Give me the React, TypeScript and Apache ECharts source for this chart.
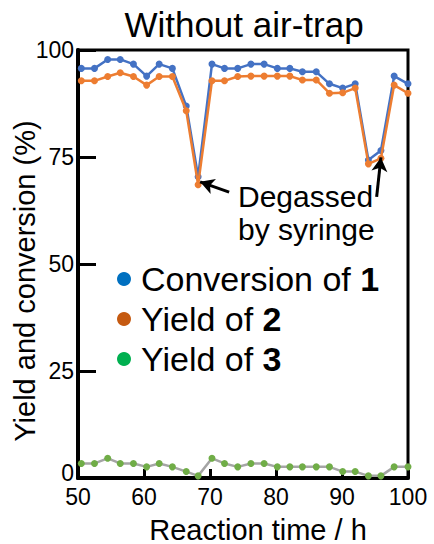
import React, { useEffect, useRef } from "react";
import * as echarts from "echarts";

const times = [50.5, 52.5, 54.5, 56.4, 58.4, 60.4, 62.3, 64.3, 66.4, 68.2, 70.3, 72.2, 74.2, 76.2, 78.2, 80.2, 82.1, 84.0, 86.1, 88.1, 90.1, 92.0, 94.0, 95.9, 97.9, 100];
const conversion1 = [95.7, 95.7, 97.8, 97.8, 96.7, 93.9, 96.7, 95.7, 86.9, 70.4, 96.7, 95.7, 95.7, 96.7, 96.7, 95.7, 95.7, 94.9, 94.9, 92.1, 91.1, 92.1, 74.3, 76.5, 93.9, 92.1];
const yield2 = [92.8, 92.8, 93.8, 94.7, 93.8, 91.8, 93.8, 93.8, 85.8, 68.5, 92.8, 92.8, 93.8, 93.9, 93.9, 93.9, 93.9, 93.0, 93.0, 89.9, 90.0, 91.1, 73.4, 74.7, 91.8, 89.9];
const yield3 = [3.4, 3.4, 4.6, 3.4, 3.4, 2.6, 3.4, 2.6, 1.5, 0.5, 4.6, 3.4, 2.6, 3.4, 3.4, 2.6, 2.6, 2.6, 2.6, 2.6, 1.5, 1.5, 0.5, 0.5, 2.6, 2.6];
const seriesNames = ["Conversion of 1", "Yield of 2", "Yield of 3"];
const arrows = [
  [[72.9, 66.8], [68.5, 69.2]],
  [[95.25, 65.7], [95.9, 74.9]],
];
const annotation = "Degassed\nby syringe";
const yAxisTitle = "Yield and conversion (%)";

const FONT = '"Liberation Sans", Arial, sans-serif';

export default function App() {
  const ref = useRef<HTMLDivElement>(null);
  useEffect(() => {
    const chart = echarts.init(ref.current!, null, { renderer: "svg" });
    const pair = (ys: number[]) => times.map((t, i) => [t, ys[i]]);
    chart.setOption({
      animation: false,
      backgroundColor: "#fff",
      textStyle: { fontFamily: FONT },
      title: {
        text: "Without air-trap",
        left: 239,
        top: 2,
        textAlign: "center",
        textStyle: { fontFamily: FONT, fontSize: 35, fontWeight: "normal", color: "#000" },
      },
      grid: {
        left: 78,
        right: 26,
        top: 50,
        bottom: 66,
        show: true,
        borderColor: "#000",
        borderWidth: 3,
        containLabel: false,
        outerBoundsMode: "none",
      },
      legend: {
        orient: "vertical",
        left: 112,
        top: 257,
        icon: "circle",
        itemWidth: 14,
        itemHeight: 14,
        itemGap: 6,
        selectedMode: false,
        data: [
          { name: seriesNames[0], itemStyle: { color: "#0070C0" } },
          { name: seriesNames[1], itemStyle: { color: "#C55A11" } },
          { name: seriesNames[2], itemStyle: { color: "#00B050" } },
        ],
        formatter: (name: string) => {
          const m = name.match(/^(.*?)(\d)$/);
          return m ? `{n|${m[1]}}{b|${m[2]}}` : name;
        },
        textStyle: {
          fontFamily: FONT,
          fontSize: 34,
          color: "#000",
          padding: [0, 0, 0, 5],
          rich: {
            n: { fontFamily: FONT, fontSize: 34, color: "#000", lineHeight: 34 },
            b: { fontFamily: FONT, fontSize: 34, color: "#000", fontWeight: "bold", lineHeight: 34 },
          },
        },
      },
      xAxis: {
        type: "value",
        min: 50,
        max: 100,
        interval: 10,
        name: "Reaction time / h",
        nameLocation: "middle",
        nameGap: 37,
        nameTextStyle: { fontFamily: FONT, fontSize: 29, color: "#000", lineHeight: 29, padding: [0, 0, 0, 30] },
        axisLine: { show: true, onZero: false, lineStyle: { color: "#000", width: 4 } },
        axisTick: { show: true, inside: true, length: 9, lineStyle: { color: "#000", width: 3 } },
        axisLabel: { fontFamily: FONT, fontSize: 23, color: "#000", margin: 10, lineHeight: 17 },
        splitLine: { show: false },
      },
      yAxis: {
        type: "value",
        min: 0,
        max: 100,
        interval: 25,
        axisLine: { show: true, onZero: false, lineStyle: { color: "#000", width: 4 } },
        axisTick: { show: true, inside: true, length: 18, lineStyle: { color: "#000", width: 3 } },
        axisLabel: {
          fontFamily: FONT,
          fontSize: 23,
          color: "#000",
          margin: 4,
          lineHeight: 16,
          formatter: (v: number) => (v === 0 ? "{z|0}" : String(v)),
          rich: {
            z: { fontFamily: FONT, fontSize: 23, color: "#000", lineHeight: 14, padding: [0, 0, 10, 0] },
          },
        },
        splitLine: { show: false },
      },
      graphic: [
        {
          type: "text",
          x: 25,
          y: 281,
          rotation: Math.PI / 2,
          style: {
            text: yAxisTitle,
            font: `29px ${FONT}`,
            fill: "#000",
            align: "center",
            verticalAlign: "middle",
          },
        },
        {
          type: "text",
          left: 238,
          top: 180,
          style: {
            text: annotation,
            font: `30px ${FONT}`,
            lineHeight: 33,
            fill: "#000",
          },
        },
      ],
      series: [
        {
          name: seriesNames[0],
          type: "line",
          data: pair(conversion1),
          symbol: "circle",
          symbolSize: 7,
          itemStyle: { color: "#4472C4" },
          lineStyle: { color: "#4472C4", width: 2.5 },
          z: 2,
        },
        {
          name: seriesNames[1],
          type: "line",
          data: pair(yield2),
          symbol: "circle",
          symbolSize: 7,
          itemStyle: { color: "#ED7D31" },
          lineStyle: { color: "#ED7D31", width: 2.5 },
          z: 3,
          markLine: {
            silent: true,
            animation: false,
            symbol: ["none", "arrow"],
            symbolSize: [12, 14],
            lineStyle: { color: "#000", width: 3, type: "solid" },
            label: { show: false },
            data: arrows.map(([a, b]) => [{ coord: a }, { coord: b }]),
          },
        },
        {
          name: seriesNames[2],
          type: "line",
          data: pair(yield3),
          symbol: "circle",
          symbolSize: 7,
          itemStyle: { color: "#70AD47" },
          lineStyle: { color: "#A5A5A5", width: 2.5 },
          z: 2,
        },
      ],
    });
    return () => chart.dispose();
  }, []);
  return <div ref={ref} style={{ position: "fixed", left: 0, top: 0, width: 434, height: 544 }} />;
}
